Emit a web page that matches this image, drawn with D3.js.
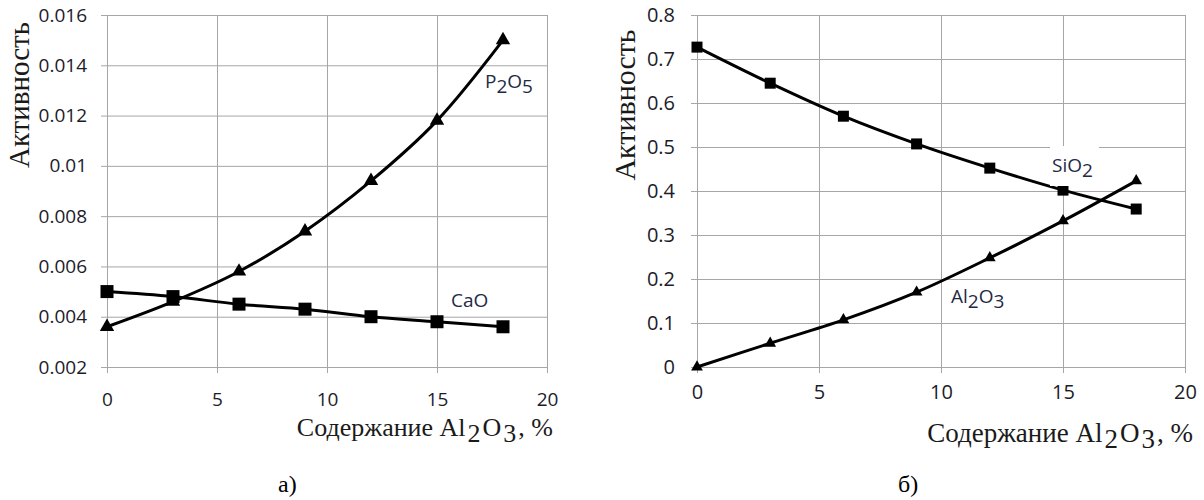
<!DOCTYPE html>
<html>
<head>
<meta charset="utf-8">
<script src="https://cdn.jsdelivr.net/npm/d3@7"></script>
<style>
  body { margin: 0; background: #fff; }
  svg { display: block; }
</style>
</head>
<body>
<script>
// содержание Al2O3, %
var xValues = [0, 3, 6, 9, 12, 15, 18];

// а) активность P2O5 и CaO
var p2o5 = [0.0036, 0.0046, 0.0058, 0.0074, 0.0094, 0.0118, 0.0150];
var cao  = [0.0050, 0.0048, 0.0045, 0.0043, 0.0040, 0.0038, 0.0036];

// б) активность SiO2 и Al2O3
var sio2  = [0.727, 0.645, 0.570, 0.507, 0.452, 0.402, 0.359];
var al2o3 = [0.000, 0.054, 0.107, 0.170, 0.248, 0.332, 0.423];

var xTicks = [0, 5, 10, 15, 20];
var leftYTicks = [0.002, 0.004, 0.006, 0.008, 0.01, 0.012, 0.014, 0.016];
var rightYTicks = [0, 0.1, 0.2, 0.3, 0.4, 0.5, 0.6, 0.7, 0.8];

var yTitle = "Активность";
var xTitle = [["Содержание Al", 0], ["2", 1], ["O", 0], ["3", 1], [", %", 0]];
var captions = ["а)", "б)"];

var labelP2O5 = [["P", 0], ["2", 1], ["O", 0], ["5", 1]];
var labelCaO = [["CaO", 0]];
var labelSiO2 = [["SiO", 0], ["2", 1]];
var labelAl2O3 = [["Al", 0], ["2", 1], ["O", 0], ["3", 1]];

var gridColor = "#a6a6a6";
var tickFont = "'Open Sans', Calibri, sans-serif";
var serifFont = "'Liberation Serif', 'Times New Roman', serif";

var svg = d3.select("body").append("svg")
  .attr("width", 1204)
  .attr("height", 500);

svg.append("rect")
  .attr("x", 0).attr("y", 0)
  .attr("width", 1204).attr("height", 500)
  .attr("fill", "#fff");

// writes text with subscript pieces, gap = extra room round a subscript
function subText(sel, parts, shift, gap) {
  parts.forEach(function(p, i) {
    var prev = i > 0 ? parts[i - 1][1] : 0;
    sel.append("tspan")
      .attr("dy", (p[1] - prev) * shift)
      .attr("dx", i > 0 && (p[1] || prev) ? gap : 0)
      .text(p[0]);
  });
}

function drawChart(c) {
  var g = svg.append("g");

  var x = d3.scaleLinear().domain([0, 20]).range([c.left, c.right]);
  var y = d3.scaleLinear().domain(c.yDomain).range([c.bottom, c.top]);

  // horizontal grid + y labels
  var yAxis = g.append("g")
    .attr("transform", "translate(" + (c.left - 6) + ",0)")
    .call(d3.axisLeft(y)
      .tickValues(c.yTicks)
      .tickFormat(function(d) { return String(d); })
      .tickSizeInner(-(c.right - c.left + 6))
      .tickSizeOuter(0)
      .tickPadding(c.yPad));
  yAxis.select(".domain").remove();
  yAxis.selectAll(".tick line").attr("stroke", gridColor);
  yAxis.selectAll(".tick text")
    .attr("font-family", tickFont)
    .attr("font-size", c.tickSize)
    .attr("fill", "#1c1c2a");

  // vertical grid + x labels
  var xAxis = g.append("g")
    .attr("transform", "translate(0," + (c.bottom + 6) + ")")
    .call(d3.axisBottom(x)
      .tickValues(xTicks)
      .tickFormat(function(d) { return String(d); })
      .tickSizeInner(-(c.bottom + 6 - c.top))
      .tickSizeOuter(0)
      .tickPadding(c.xPad));
  xAxis.select(".domain").remove();
  xAxis.selectAll(".tick line").attr("stroke", gridColor);
  xAxis.selectAll(".tick text")
    .attr("font-family", tickFont)
    .attr("font-size", c.tickSize)
    .attr("fill", "#1c1c2a");

  var line = d3.line()
    .x(function(d) { return x(d[0]); })
    .y(function(d) { return y(d[1]); })
    .curve(d3.curveCatmullRom.alpha(0.5));

  c.series.forEach(function(s) {
    var pts = xValues.map(function(v, i) { return [v, s.values[i]]; });
    g.append("path")
      .datum(pts)
      .attr("fill", "none")
      .attr("stroke", "#000")
      .attr("stroke-width", 3)
      .attr("d", line);
    g.selectAll(null)
      .data(pts)
      .enter()
      .append("path")
      .attr("transform", function(d) { return "translate(" + x(d[0]) + "," + y(d[1]) + ")"; })
      .attr("d", d3.symbol(s.symbol, s.size))
      .attr("fill", "#000");
  });

  c.labels.forEach(function(l) {
    if (l.box) {
      g.append("rect")
        .attr("x", l.box[0]).attr("y", l.box[1])
        .attr("width", l.box[2]).attr("height", l.box[3])
        .attr("fill", "#fff");
    }
    var t = g.append("text")
      .attr("x", l.x).attr("y", l.y)
      .attr("font-family", tickFont)
      .attr("font-size", l.size)
      .attr("fill", "#1f2a44");
    subText(t, l.parts, 5, 0);
  });

  // axis titles
  g.append("text")
    .attr("transform", "translate(" + c.yTitleX + "," + c.yTitleY + ") rotate(-90)")
    .attr("text-anchor", "middle")
    .attr("dy", "0.35em")
    .attr("font-family", serifFont)
    .attr("font-size", c.yTitleSize)
    .attr("fill", "#1a1a1a")
    .text(yTitle);

  var xt = g.append("text")
    .attr("x", c.xTitleX).attr("y", c.xTitleY)
    .attr("text-anchor", "end")
    .attr("font-family", serifFont)
    .attr("font-size", c.xTitleSize)
    .attr("fill", "#1a1a1a");
  subText(xt, xTitle, 6, 2);

  g.append("text")
    .attr("x", c.capX).attr("y", 492)
    .attr("font-family", serifFont)
    .attr("font-size", 24)
    .attr("fill", "#000")
    .text(c.caption);
}

drawChart({
  left: 107, right: 547, top: 15, bottom: 367,
  yDomain: [0.002, 0.016], yTicks: leftYTicks,
  yPad: 14, xPad: 20, tickSize: 19,
  series: [
    { values: cao, symbol: d3.symbolSquare, size: 169 },
    { values: p2o5, symbol: d3.symbolTriangle, size: 90 }
  ],
  labels: [
    { x: 485, y: 88, size: 19, parts: labelP2O5 },
    { x: 451, y: 307, size: 19, parts: labelCaO }
  ],
  yTitleX: 19, yTitleY: 95, yTitleSize: 29,
  xTitleX: 553, xTitleY: 436, xTitleSize: 26,
  capX: 278, caption: captions[0]
});

drawChart({
  left: 697, right: 1185, top: 15, bottom: 367,
  yDomain: [0, 0.8], yTicks: rightYTicks,
  yPad: 16, xPad: 12, tickSize: 20,
  series: [
    { values: sio2, symbol: d3.symbolSquare, size: 121 },
    { values: al2o3, symbol: d3.symbolTriangle, size: 60 }
  ],
  labels: [
    { x: 1052, y: 172, size: 19, parts: labelSiO2, box: [1050, 146, 49, 40] },
    { x: 951, y: 303, size: 19, parts: labelAl2O3 }
  ],
  yTitleX: 624, yTitleY: 105, yTitleSize: 30,
  xTitleX: 1193, xTitleY: 442, xTitleSize: 27,
  capX: 898, caption: captions[1]
});
</script>
</body>
</html>
